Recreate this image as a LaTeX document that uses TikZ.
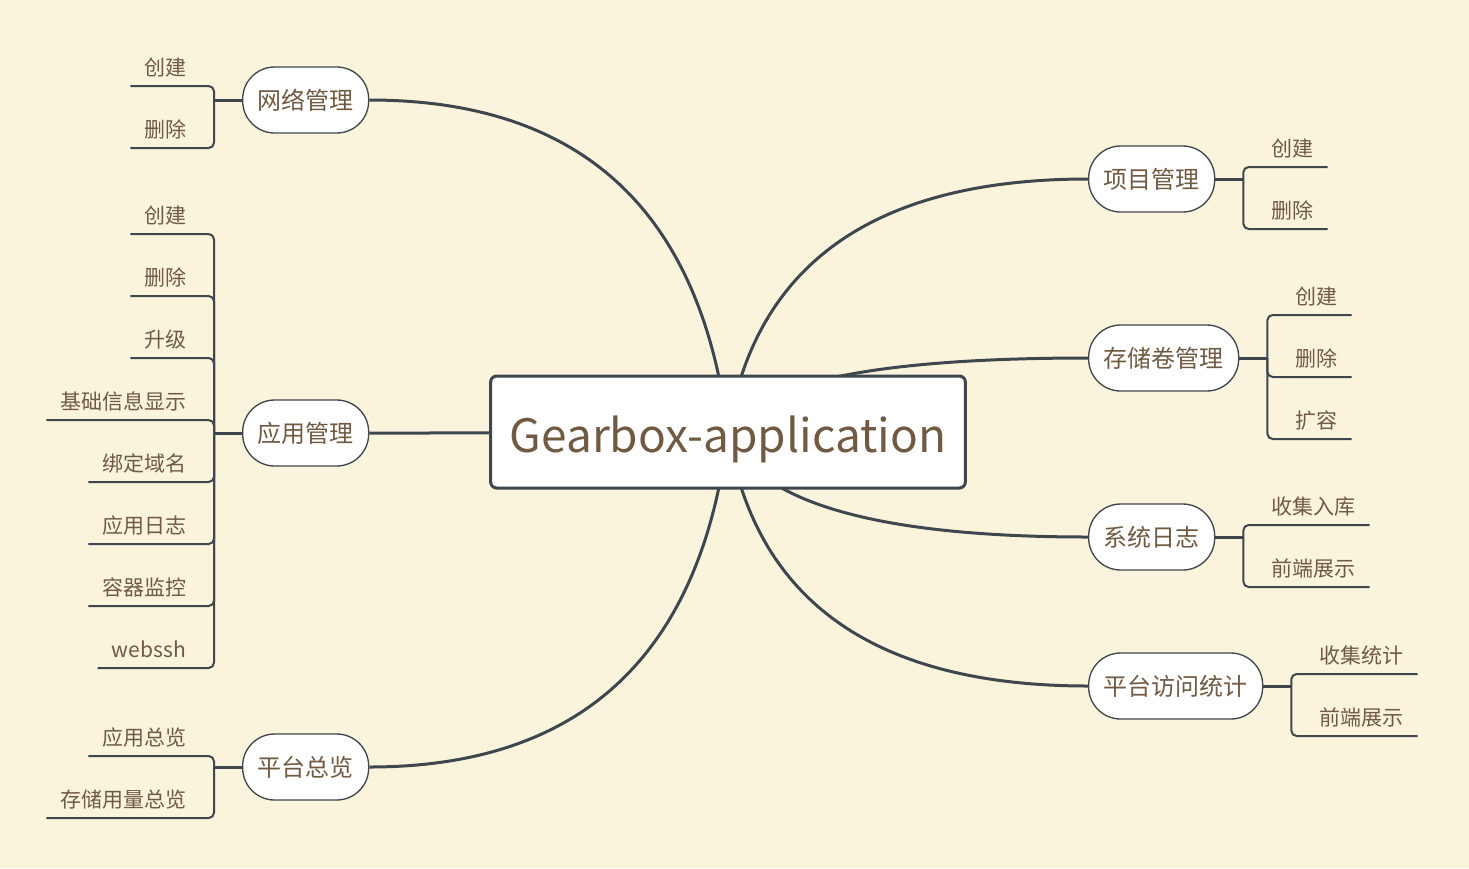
\documentclass[tikz,border=0pt]{standalone}
\usepackage{fontspec}
\setmainfont{Noto Sans CJK SC}
\usetikzlibrary{calc}

\definecolor{paper}{RGB}{251,244,221}
\definecolor{ink}{RGB}{112,90,66}
\definecolor{wire}{RGB}{62,70,78}

\pgfdeclarelayer{bg}
\pgfdeclarelayer{edges}
\pgfsetlayers{bg,edges,main}

\tikzset{every picture/.style={line width=0.75pt}}
\tikzset{
    root/.style={draw=wire, line width=2.25pt, fill=white, rounded corners=4.5pt, minimum width=356pt, minimum height=84pt, text height=30pt, text depth=0pt, text=ink, font=\fontsize{34.5}{40}\selectfont},
    topic/.style={draw=wire, line width=1pt, fill=white, rounded corners=24pt, minimum height=49.5pt, inner xsep=11.25pt, text=ink, font=\fontsize{18}{20}\selectfont},
    leaf/.style={inner xsep=10.5pt, inner ysep=7.5pt, text height=12pt, text depth=0pt, text=ink, font=\fontsize{15.75}{18}\selectfont},
    branch/.style={to path={.. controls ($(\tikztostart)!2/3!(\tikztostart|-\tikztotarget)+(#1,0)$) and ($(\tikztotarget)!2/3!(\tikztostart|-\tikztotarget)+(#1,0)$) .. (\tikztotarget)}},
    stem/.style={draw=wire, line width=2.25pt},
    twig/.style={draw=wire, line width=1.5pt, rounded corners=4pt},
}

\begin{document}
\begin{tikzpicture}[x=0.75pt,y=0.75pt,yscale=-1,xscale=1]
    \useasboundingbox (0,0) rectangle (1469,868);
    \begin{pgfonlayer}{bg}
        \fill[paper] (0,0) rectangle (1469,868);
    \end{pgfonlayer}

    %Central topic
    \node[root] (root) at (728,432) {Gearbox-application};

    %Main topics, left
    \node[topic, anchor=west] (net) at (242,100) {网络管理};
    \node[topic, anchor=west] (app) at (242,433) {应用管理};
    \node[topic, anchor=west] (ovw) at (242,767) {平台总览};
    %Main topics, right
    \node[topic, anchor=west] (prj) at (1088,179) {项目管理};
    \node[topic, anchor=west] (vol) at (1088,358) {存储卷管理};
    \node[topic, anchor=west] (log) at (1088,537) {系统日志};
    \node[topic, anchor=west] (vis) at (1088,686) {平台访问统计};

    %Branches
    \begin{pgfonlayer}{edges}
        \draw[stem] (root.center) to[branch=-27] (net.east);
        \draw[stem] (root.center) to[branch=-27] (app.east);
        \draw[stem] (root.center) to[branch=-27] (ovw.east);
        \draw[stem] (root.center) to[branch=27] (prj.west);
        \draw[stem] (root.center) to[branch=27] (vol.west);
        \draw[stem] (root.center) to[branch=27] (log.west);
        \draw[stem] (root.center) to[branch=27] (vis.west);
    \end{pgfonlayer}

    % Text Node
    \node[leaf, anchor=south east] (net1) at (201,86) {创建};
    \node[leaf, anchor=south east] (net2) at (201,148) {删除};
    % Text Node
    \node[leaf, anchor=south east] (app1) at (201,234) {创建};
    \node[leaf, anchor=south east] (app2) at (201,296) {删除};
    \node[leaf, anchor=south east] (app3) at (201,358) {升级};
    \node[leaf, anchor=south east] (app4) at (201,420) {基础信息显示};
    \node[leaf, anchor=south east] (app5) at (201,482) {绑定域名};
    \node[leaf, anchor=south east] (app6) at (201,544) {应用日志};
    \node[leaf, anchor=south east] (app7) at (201,606) {容器监控};
    \node[leaf, anchor=south east] (app8) at (200,668) {webssh};
    % Text Node
    \node[leaf, anchor=south east] (ovw1) at (201,756) {应用总览};
    \node[leaf, anchor=south east] (ovw2) at (201,818) {存储用量总览};
    % Text Node
    \node[leaf, anchor=south west] (prj1) at (1257,167) {创建};
    \node[leaf, anchor=south west] (prj2) at (1257,229) {删除};
    % Text Node
    \node[leaf, anchor=south west] (vol1) at (1281,315) {创建};
    \node[leaf, anchor=south west] (vol2) at (1281,377) {删除};
    \node[leaf, anchor=south west] (vol3) at (1281,439) {扩容};
    % Text Node
    \node[leaf, anchor=south west] (log1) at (1257,525) {收集入库};
    \node[leaf, anchor=south west] (log2) at (1257,587) {前端展示};
    % Text Node
    \node[leaf, anchor=south west] (vis1) at (1305,674) {收集统计};
    \node[leaf, anchor=south west] (vis2) at (1305,736) {前端展示};

    %Brackets, left
    \foreach \t/\n in {net/2, app/8, ovw/2} {
        \coordinate (\t j) at ($(\t.west)+(-28,0)$);
        \draw[stem] (\t.west) -- (\t j);
        \foreach \i in {1,...,\n}
            \draw[twig] (\t j) |- (\t\i.south west);
    }
    %Brackets, right
    \foreach \t/\n in {prj/2, vol/3, log/2, vis/2} {
        \coordinate (\t j) at ($(\t.east)+(28,0)$);
        \draw[stem] (\t.east) -- (\t j);
        \foreach \i in {1,...,\n}
            \draw[twig] (\t j) |- (\t\i.south east);
    }
\end{tikzpicture}
\end{document}
